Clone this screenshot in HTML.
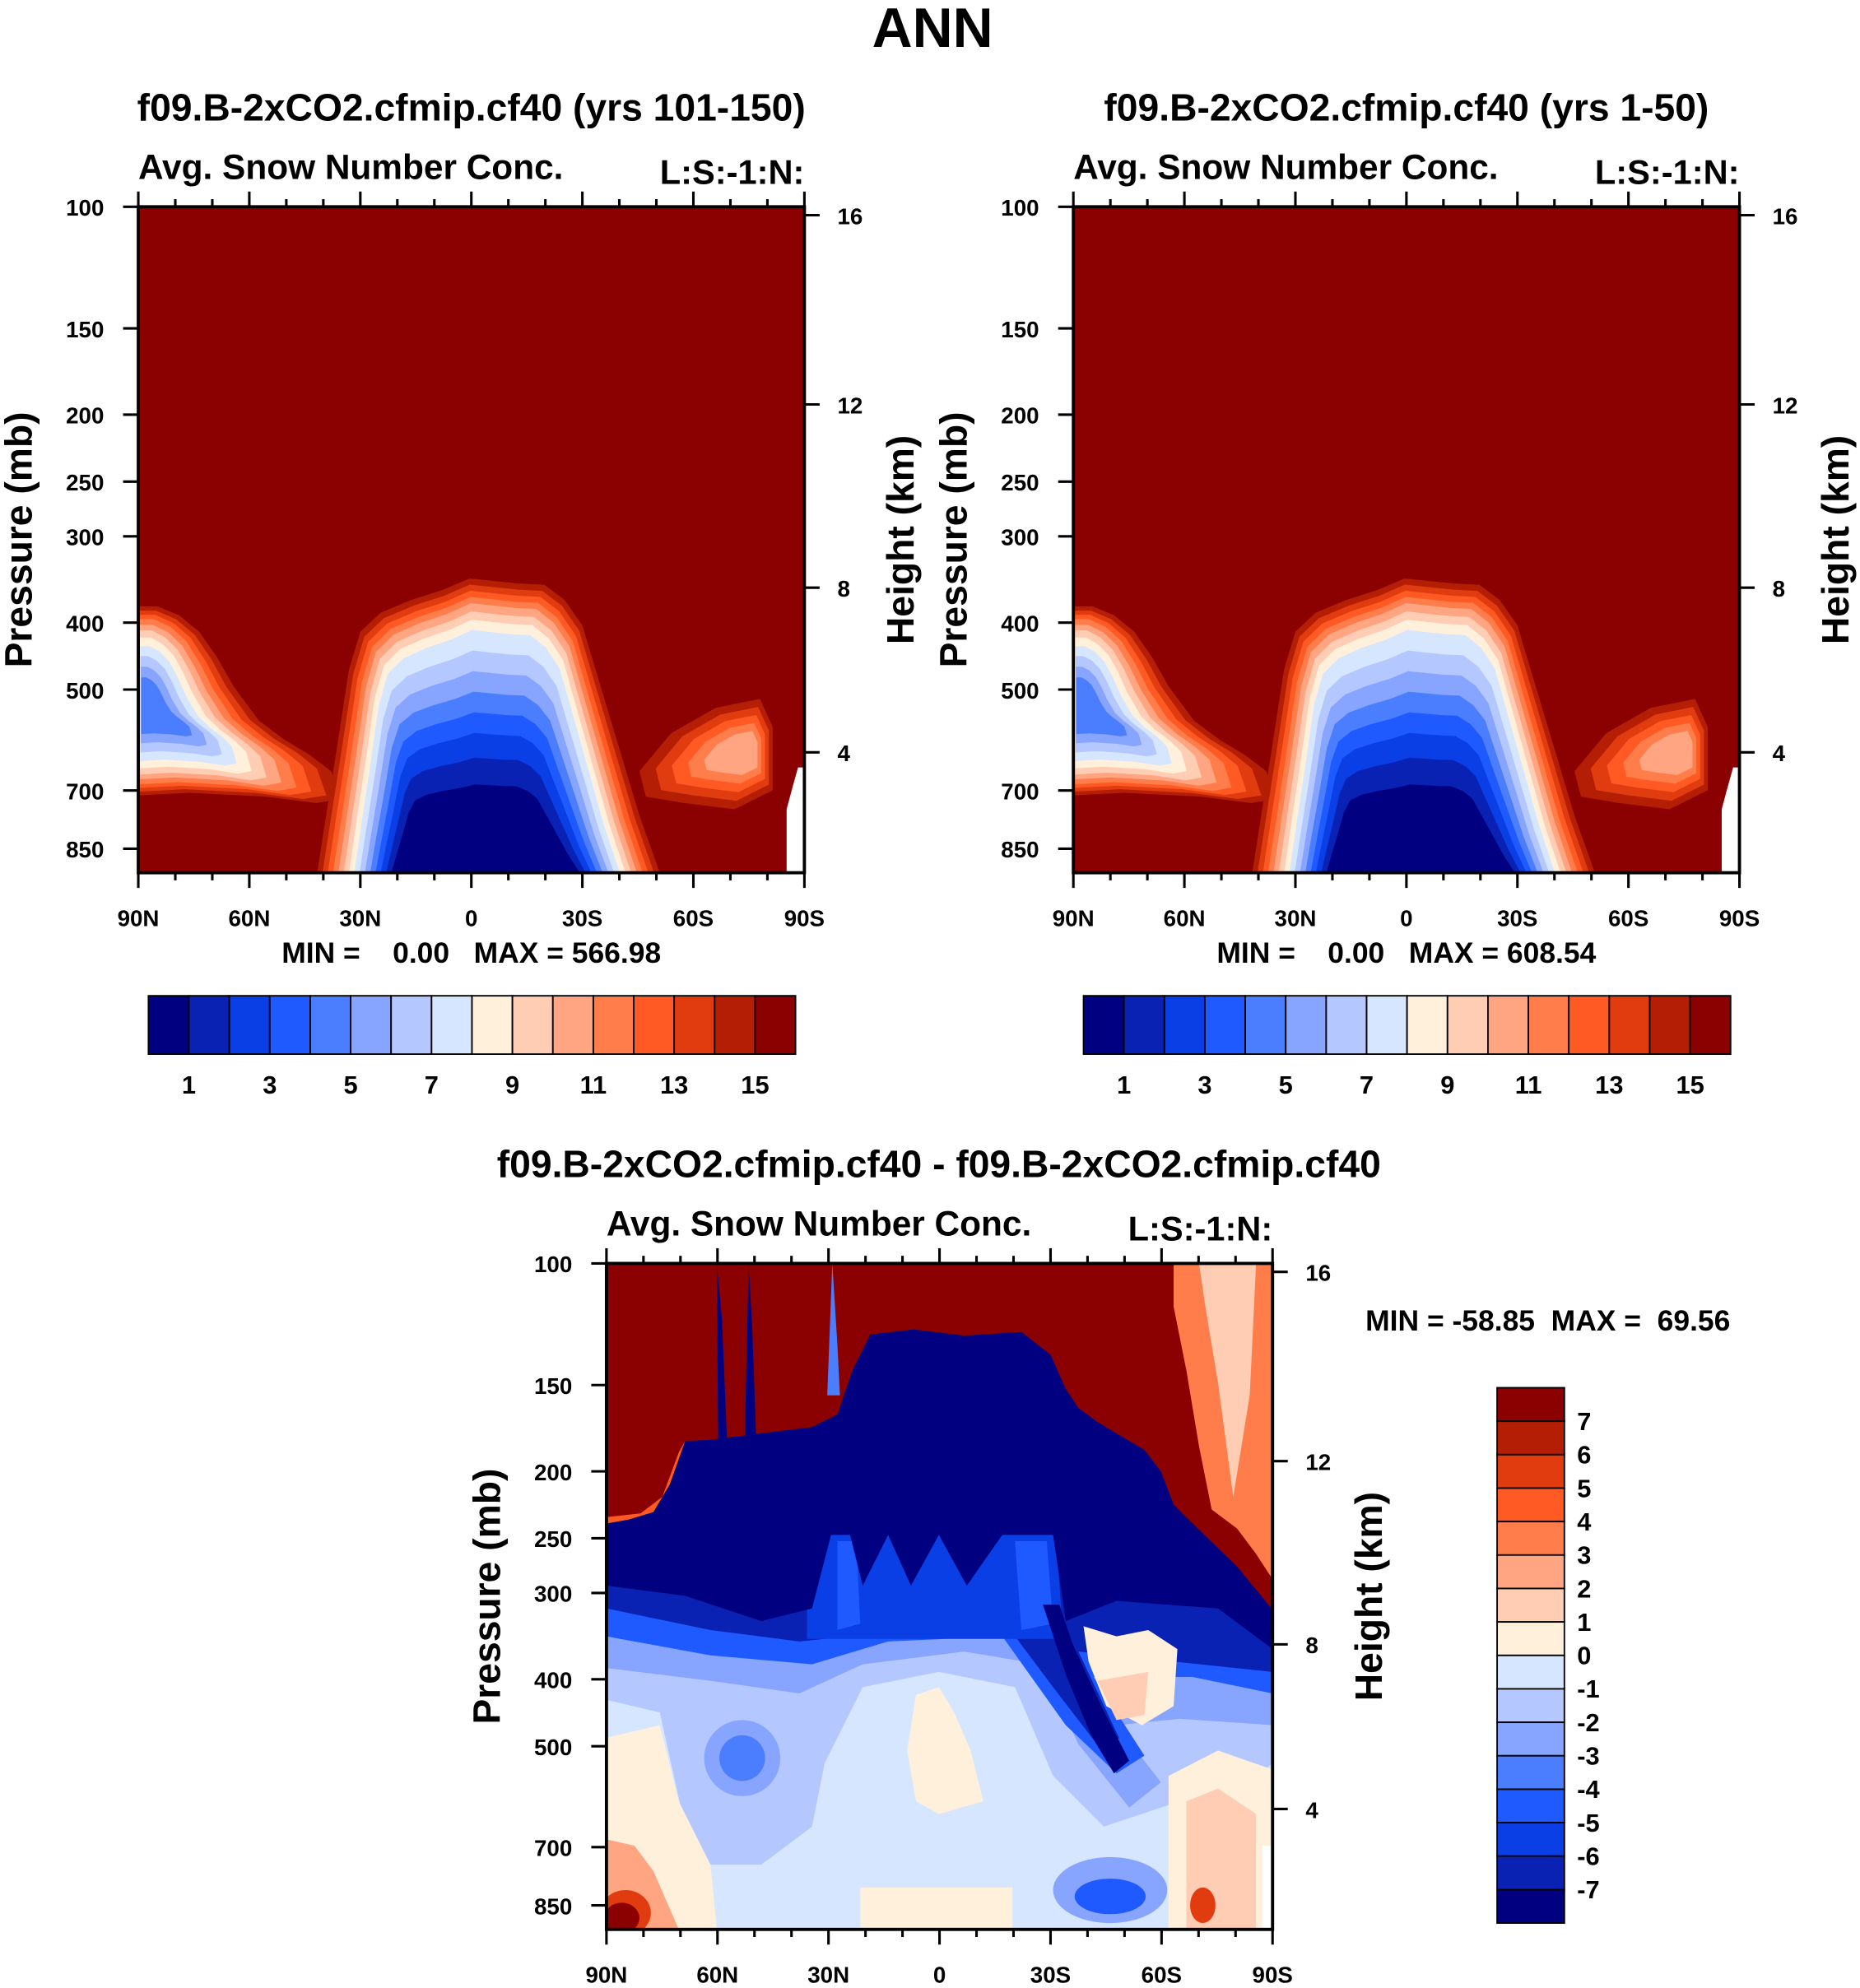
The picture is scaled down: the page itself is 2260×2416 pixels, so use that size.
<!DOCTYPE html>
<html><head><meta charset="utf-8">
<style>
html,body{margin:0;padding:0;background:#fff;}
svg{display:block;}
text{font-family:"Liberation Sans",Arial,sans-serif;font-weight:bold;fill:#000;}
</style></head>
<body>
<svg id="fig" width="2260" height="2416" viewBox="0 0 1466 1567.2" preserveAspectRatio="none" xmlns="http://www.w3.org/2000/svg">
<text x="735" y="37" font-size="44" text-anchor="middle">ANN</text>
<g id="root"></g>
</svg>
<script>
// ---- data ----
const levelColors = ["#000080","#0a22b4","#0a3fe6","#1e5aff","#4b7dff","#87a5ff","#b4c8ff","#d7e6ff","#fff0dc","#ffcdb4","#ffa582","#ff7d4b","#ff5a23","#e13c0f","#b41e05","#8b0000"];
const topLabels = ["1","3","5","7","9","11","13","15"];
const diffLabels = ["7","6","5","4","3","2","1","0","-1","-2","-3","-4","-5","-6","-7"];
const pressureTicks = [100,150,200,250,300,400,500,700,850];
const heightTicks = [16,12,8,4];
const latLabels = ["90N","60N","30N","0","30S","60S","90S"];
const panelMin = ["0.00","0.00"];
const panelMax = ["566.98","608.54"];
const diffMin = "-58.85", diffMax = "69.56";

const NS="http://www.w3.org/2000/svg";
const root=document.getElementById('root');
function el(tag,attrs,parent){const e=document.createElementNS(NS,tag);for(const k in attrs)e.setAttribute(k,attrs[k]);(parent||root).appendChild(e);return e;}
function txt(x,y,s,size,anchor,parent){const t=el('text',{x:x,y:y,'font-size':size,'text-anchor':anchor||'start'},parent);t.textContent=s;return t;}
const S=525;
function pY(p,y0){return y0+(Math.log10(p)-2)*544.5;}
function hY(h,y0){const p = h<=11 ? 1013.25*Math.pow(1-h/44.33,5.255) : 226.3*Math.exp(-(h-11)/6.34);return pY(p,y0);}

function axes(x0,y0,g){
  el('rect',{x:x0,y:y0,width:S,height:S,fill:'none',stroke:'#000','stroke-width':2.5},g);
  for(let i=0;i<=18;i++){const x=x0+i*S/18;const L=(i%3==0)?12:6;
    el('line',{x1:x,y1:y0,x2:x,y2:y0-L,stroke:'#000','stroke-width':2},g);
    el('line',{x1:x,y1:y0+S,x2:x,y2:y0+S+L,stroke:'#000','stroke-width':2},g);}
  latLabels.forEach((s,i)=>{const t=txt(x0+i*S/6,y0+S+42,s,18,'middle',g);});
  pressureTicks.forEach(p=>{const y=pY(p,y0);el('line',{x1:x0,y1:y,x2:x0-12,y2:y,stroke:'#000','stroke-width':2},g);
    const t=txt(x0-27,y+7,String(p),18,'end',g);});
  heightTicks.forEach(h=>{const y=hY(h,y0);el('line',{x1:x0+S,y1:y,x2:x0+S+12,y2:y,stroke:'#000','stroke-width':2},g);
    const t=txt(x0+S+26,y+7,String(h),18,'start',g);});
  const a=txt(0,0,'Pressure (mb)',30,'middle',g);a.setAttribute('transform',`translate(${x0-84},${y0+S/2}) rotate(-90)`);
  
  const b=txt(0,0,'Height (km)',30,'middle',g);b.setAttribute('transform',`translate(${x0+S+86},${y0+S/2}) rotate(-90)`);
  
}
function layers(g,x0,y0,pts,ax,ay,cols,sxE,syE,uv){
  const n=cols.length;
  cols.forEach((ci,k)=>{const u=uv?uv[k]:k/(n-1);const t=k/(n-1);const sx=1-sxE*t, sy=1-syE*u;
    const d=pts.map(p=>[(x0+ax+(p[0]-ax)*sx).toFixed(1),(y0+ay+(p[1]-ay)*sy).toFixed(1)].join(',')).join(' ');
    const e=el('polygon',{points:d,fill:levelColors[ci],'stroke-linejoin':'round'},g);
    
    });
}
function topPanel(x0,y0,title,idx){
  const g=el('g',{});
  const bg=el('rect',{x:x0,y:y0,width:S,height:S,fill:levelColors[15]},g);
  
  layers(g,x0,y0,[[0,315],[15,315],[32,322],[48,335],[62,355],[75,378],[95,405],[115,420],[135,432],[152,445],[160,467],[140,470],[100,465],[40,462],[0,464]],3,395,[14,13,12,11,10,9,8,7,6,5,4],0.75,0.7,[0,0.06,0.12,0.18,0.26,0.34,0.44,0.56,0.7,0.85,1]);
  layers(g,x0,y0,[[395,445],[420,415],[455,395],[490,388],[500,410],[500,460],[470,475],[430,470],[400,465]],480,430,[14,13,12,11,10],0.6,0.6);
  layers(g,x0,y0,[[141,525],[148,480],[156,430],[166,365],[175,335],[191,320],[215,310],[240,302],[261,293],[280,295],[300,297],[320,298],[336,310],[350,330],[365,380],[380,430],[395,480],[411,525]],271,525,[14,13,12,11,10,9,8,7,6,5,4,3,2,1,0],0.45,0.7,[0,0.03,0.06,0.09,0.12,0.16,0.2,0.25,0.35,0.45,0.55,0.65,0.75,0.87,1]);
  const w=el('polygon',{points:`${x0+511},${y0+525} ${x0+511},${y0+475} ${x0+515},${y0+460} ${x0+520},${y0+442} ${x0+525},${y0+442} ${x0+525},${y0+525}`,fill:'#fff'},g);
  
  axes(x0,y0,g);
  let t=txt(x0+S/2,95,title,30,'middle',g);
  t=txt(x0,141,'Avg. Snow Number Conc.',27.5,'start',g);
  t=txt(x0+S,145,'L:S:-1:N:',27,'end',g);
  t=txt(x0+S/2,759,'MIN =    '+panelMin[idx]+'   MAX = '+panelMax[idx],23,'middle',g);
  t.style.whiteSpace='pre';
  const cx=x0+8,cw=510/16;
  levelColors.forEach((c,i)=>{const r=el('rect',{x:cx+i*cw,y:785,width:cw,height:46,fill:c,stroke:'#000','stroke-width':1.2},g);
    });
  topLabels.forEach((s,k)=>{const i=2*k+1;const tt=txt(cx+i*cw,862,s,20,'middle',g);});
}
topPanel(109,163,'f09.B-2xCO2.cfmip.cf40 (yrs 101-150)',0);
topPanel(846,163,'f09.B-2xCO2.cfmip.cf40 (yrs 1-50)',1);

// ---- difference panel ----
(function(){
  const x0=478,y0=996;
  const g=el('g',{});
  const clip=el('clipPath',{id:'dclip'},g);el('rect',{x:x0,y:y0,width:S,height:S},clip);
  const f=el('g',{'clip-path':'url(#dclip)'},g);
  function P(pts,c,name){const e=el('polygon',{points:pts,fill:(typeof c==='number')?levelColors[c]:c},f);}
  function E(cx,cy,rx,ry,ci,name){const e=el('ellipse',{cx:cx,cy:cy,rx:rx,ry:ry,fill:levelColors[ci]},f);}
  el('rect',{x:x0,y:y0,width:S,height:S,fill:levelColors[7]},f);
  P('478,1200 478,1340 520,1350 540,1440 560,1470 600,1470 640,1440 650,1390 680,1330 740,1318 800,1330 830,1400 870,1440 930,1420 980,1410 1003,1390 1003,1200',6,'contour-level');
  P('478,1200 478,1315 560,1325 630,1335 680,1312 760,1302 820,1312 850,1375 890,1425 915,1405 880,1360 930,1355 1003,1360 1003,1200',5,'contour-level');
  P('478,1200 478,1290 560,1305 640,1312 700,1294 790,1290 840,1360 880,1398 902,1384 862,1322 940,1322 1003,1335 1003,1200',3,'contour-level');
  P('478,1200 478,1268 560,1285 630,1294 670,1290 730,1282 800,1290 830,1330 870,1382 882,1370 850,1302 1003,1318 1003,1200',1,'contour-level');
  P('636,1205 832,1205 838,1292 636,1292',2,'contour-level');
  P('660,1215 675,1215 678,1280 660,1285',3,'contour-level');
  P('800,1215 825,1215 830,1280 805,1285',3,'contour-level');
  P('478,1250 540,1258 600,1278 640,1268 655,1210 670,1210 680,1250 700,1210 718,1250 740,1210 762,1250 790,1210 830,1210 840,1278 880,1262 960,1268 1003,1300 1003,1000 478,1000',0,'navy-band');
  P('822,1265 840,1320 860,1368 878,1398 890,1388 868,1345 845,1295 835,1265',0,'contour-level');
  E(585,1386,30,30,5,'contour-level');E(585,1386,18,18,4,'contour-level');
  E(875,1490,45,26,5,'contour-level');E(875,1495,28,14,3,'contour-level');
  P('854,1282 880,1290 905,1285 928,1300 925,1345 900,1360 872,1345 858,1310',8,'contour-level');
  P('865,1325 905,1318 902,1352 880,1356',9,'contour-level');
  P('722,1336 740,1330 752,1350 765,1380 775,1420 740,1430 722,1420 715,1380',8,'contour-level');
  P('678,1488 798,1488 798,1521 678,1521',8,'contour-level');
  P('478,1370 520,1360 535,1420 560,1470 565,1521 478,1521',8,'contour-level');
  P('478,1450 500,1455 515,1475 535,1521 478,1521',10,'contour-level');
  E(493,1508,20,18,13,'contour-level');E(490,1512,14,12,15,'contour-level');
  P('921,1400 960,1380 1003,1395 1003,1521 921,1521',8,'contour-level');
  P('935,1420 960,1410 990,1430 990,1521 935,1521',9,'contour-level');
  E(948,1502,10,14,13,'contour-level');
  P('995,1455 1003,1455 1003,1521 995,1521','#ffffff','missing-data');
  P('478,996 1003,996 1003,1269 975,1235 940,1201 925,1186 915,1160 902,1143 880,1130 865,1121 850,1110 840,1095 828,1068 805,1050 760,1053 720,1048 686,1052 672,1080 660,1115 640,1125 600,1130 560,1135 540,1136 528,1170 515,1192 495,1198 478,1201',15,'red-top-region');
  P('478,1201 495,1198 515,1192 528,1170 540,1136 535,1145 522,1180 505,1193 478,1196',12,'contour-level');
  P('925,996 1003,996 1003,1245 990,1225 975,1205 955,1190 945,1140 935,1080 925,1030',11,'contour-level');
  P('945,996 990,996 985,1100 972,1180 960,1090 950,1030',9,'contour-level');
  P('565,996 569,1040 573,1135 566,1135',0,'spike');P('590,996 593,1050 596,1135 587,1135',0,'spike');
  P('656,996 660,1060 662,1100 652,1100',4,'spike');
  axes(x0,y0,g);
  let t=txt(740,928,'f09.B-2xCO2.cfmip.cf40 - f09.B-2xCO2.cfmip.cf40',30,'middle',g);
  t=txt(x0,974,'Avg. Snow Number Conc.',27.5,'start',g);
  t=txt(x0+S,978,'L:S:-1:N:',27,'end',g);
  t=txt(1220,1049,'MIN = '+diffMin+'  MAX =  '+diffMax,23,'middle',g);
  t.style.whiteSpace='pre';
  const by=1094,bh=422/16;
  levelColors.slice().reverse().forEach((c,i)=>{const r=el('rect',{x:1180,y:by+i*bh,width:53,height:bh,fill:c,stroke:'#000','stroke-width':1.2},g);
    });
  diffLabels.forEach((s,k)=>{const tt=txt(1243,by+(k+1)*bh+7,s,20,'start',g);});
})();
</script>
</body></html>
